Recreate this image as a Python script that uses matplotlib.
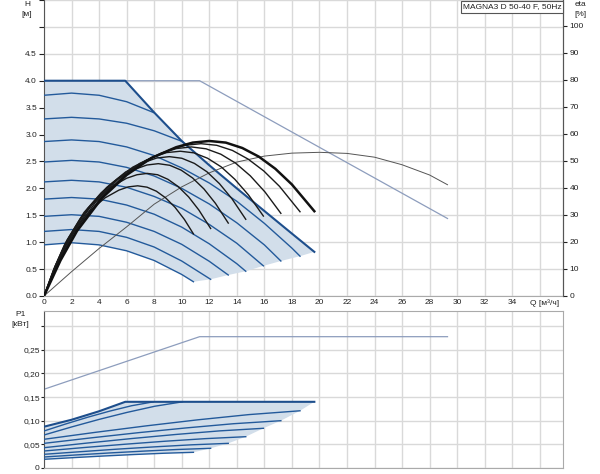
import numpy as np
import matplotlib.pyplot as plt

plt.rcParams['font.family'] = ['Liberation Sans', 'DejaVu Sans']
plt.rcParams['font.size'] = 6

# ---------------- upper chart: H(Q) curves, Q [m3/h], H [m]
edge_q = [0, 5.9, 8, 10, 12, 14, 16, 18, 19.63]
edge_h = [4.0, 4.0, 3.41, 2.88, 2.43, 2.0, 1.58, 1.16, 0.82]

head_q = [
    [0, 2, 4, 6, 7.95],
    [0, 2, 4, 6, 8, 10.05],
    [0, 2, 4, 6, 8, 10, 12, 14, 16, 18, 18.59],
    [0, 2, 4, 6, 8, 10, 12, 14, 16, 17.2],
    [0, 2, 4, 6, 8, 10, 12, 14, 15.93],
    [0, 2, 4, 6, 8, 10, 12, 14, 14.65],
    [0, 2, 4, 6, 8, 10, 12, 13.38],
    [0, 2, 4, 6, 8, 10, 12.1],
    [0, 2, 4, 6, 8, 10, 10.85],
]
head_h = [
    [3.73, 3.77, 3.73, 3.61, 3.41],
    [3.29, 3.32, 3.29, 3.21, 3.07, 2.87],
    [2.87, 2.90, 2.87, 2.77, 2.61, 2.38, 2.10, 1.76, 1.35, 0.89, 0.74],
    [2.49, 2.52, 2.49, 2.39, 2.23, 2.00, 1.71, 1.36, 0.95, 0.65],
    [2.12, 2.15, 2.12, 2.02, 1.85, 1.63, 1.33, 0.98, 0.56],
    [1.80, 1.83, 1.80, 1.69, 1.52, 1.28, 0.97, 0.60, 0.46],
    [1.48, 1.51, 1.48, 1.37, 1.20, 0.96, 0.645, 0.39],
    [1.20, 1.235, 1.20, 1.09, 0.91, 0.65, 0.31],
    [0.95, 0.99, 0.95, 0.84, 0.66, 0.40, 0.265],
]

# second (twin) head line
twin_q = [0, 11.3, 29.3]
twin_h = [4.0, 4.0, 1.44]

# efficiency curves, eta [%]
eta_q = [
    [0, 0.68, 1.36, 2.38, 3.4, 4.42, 5.44, 6.12, 6.8, 7.48, 8.16, 8.84, 9.52, 10.2, 10.85],
    [0, 0.75, 1.5, 2.63, 3.75, 4.88, 6.0, 6.75, 7.5, 8.25, 9.0, 9.75, 10.5, 11.25, 12.1],
    [0, 0.83, 1.66, 2.9, 4.15, 5.4, 6.64, 7.47, 8.3, 9.13, 9.96, 10.79, 11.62, 12.45, 13.38],
    [0, 0.91, 1.82, 3.19, 4.55, 5.92, 7.28, 8.19, 9.1, 10.01, 10.92, 11.83, 12.74, 13.65, 14.65],
    [0, 0.99, 1.98, 3.47, 4.95, 6.44, 7.92, 8.91, 9.9, 10.89, 11.88, 12.87, 13.86, 14.85, 15.93],
    [0, 1.07, 2.14, 3.75, 5.35, 6.96, 8.56, 9.63, 10.7, 11.77, 12.84, 13.91, 14.98, 16.05, 17.2],
    [0, 1.14, 2.28, 3.99, 5.7, 7.41, 9.12, 10.26, 11.4, 12.54, 13.68, 14.82, 15.96, 17.1, 18.59],
]
eta_v = [
    [0, 9.4, 17.1, 25.7, 31.8, 36.3, 39.2, 40.4, 40.8, 40.3, 38.8, 36.3, 32.8, 28.3, 23.0],
    [0, 10.4, 19.1, 28.6, 35.4, 40.4, 43.6, 44.9, 45.4, 44.9, 43.2, 40.5, 36.7, 31.8, 25.0],
    [0, 11.3, 20.6, 30.9, 38.2, 43.6, 47.0, 48.5, 49.0, 48.4, 46.6, 43.7, 39.6, 34.3, 27.0],
    [0, 11.9, 21.7, 32.5, 40.2, 45.9, 49.5, 51.1, 51.6, 51.0, 49.1, 46.0, 41.6, 36.0, 28.4],
    [0, 12.3, 22.5, 33.8, 41.8, 47.7, 51.5, 53.1, 53.6, 53.0, 51.0, 47.8, 43.2, 37.4, 29.6],
    [0, 12.7, 23.2, 34.8, 43.1, 49.1, 53.0, 54.6, 55.2, 54.5, 52.5, 49.2, 44.5, 38.5, 30.6],
    [0, 13.0, 23.7, 35.5, 44.0, 50.2, 54.1, 55.8, 56.4, 55.8, 53.9, 50.7, 46.3, 40.6, 31.2],
]
eta_max_q = [0, 1.2, 2.4, 4.2, 6.0, 7.8, 9.6, 10.8, 12.0, 13.2, 14.4, 15.6, 16.8, 18.0, 19.63]
eta_max_v = [0, 13.2, 24.1, 36.2, 44.8, 51.1, 55.1, 56.8, 57.4, 56.8, 54.8, 51.6, 47.1, 41.3, 31.4]

eta_twin_q = [0, 2, 4, 6, 8, 10, 12, 14, 16, 18, 20, 22, 24, 26, 28, 29.3]
eta_twin_v = [0, 9, 17.6, 25.6, 34, 40.4, 45.6, 49.6, 51.8, 52.9, 53.2, 52.8, 51.4, 48.6, 44.8, 41.2]

# ---------------- lower chart: P1(Q) [kW]
pedge_q = [0, 2, 4, 5.9, 19.63]
pedge_p = [0.0873, 0.102, 0.12, 0.14, 0.14]

pow_q = [
    [0, 1.59, 3.18, 4.77, 6.36, 7.95],
    [0, 2.01, 4.02, 6.03, 8.04, 10.05],
    [0, 3.72, 7.44, 11.15, 14.87, 18.59],
    [0, 3.44, 6.88, 10.32, 13.76, 17.2],
    [0, 3.19, 6.37, 9.56, 12.74, 15.93],
    [0, 2.93, 5.86, 8.79, 11.72, 14.65],
    [0, 2.68, 5.35, 8.03, 10.7, 13.38],
    [0, 2.42, 4.84, 7.26, 9.68, 12.1],
    [0, 2.17, 4.34, 6.51, 8.68, 10.85],
]
pow_p = [
    [0.0782, 0.0932, 0.1074, 0.1203, 0.1317, 0.14],
    [0.0697, 0.0868, 0.1029, 0.1176, 0.1306, 0.14],
    [0.0606, 0.0753, 0.0891, 0.1018, 0.1129, 0.121],
    [0.052, 0.0637, 0.0747, 0.0847, 0.0936, 0.100],
    [0.0428, 0.0528, 0.0622, 0.0708, 0.0784, 0.0839],
    [0.0358, 0.0432, 0.0501, 0.0565, 0.0620, 0.0661],
    [0.0288, 0.0344, 0.0398, 0.0446, 0.0489, 0.052],
    [0.0231, 0.0276, 0.0318, 0.0356, 0.0390, 0.0415],
    [0.0182, 0.0218, 0.0252, 0.0283, 0.0310, 0.033],
]
ptwin_q = [0, 11.3, 29.3]
ptwin_p = [0.1666, 0.278, 0.278]

q_ticks = list(range(0, 37, 2))
q_labels = [str(v) for v in range(0, 35, 2)] + ['']
h_ticks = [0, 0.5, 1.0, 1.5, 2.0, 2.5, 3.0, 3.5, 4.0, 4.5, 5.0, 5.5]
h_labels = ['0.0', '0.5', '1.0', '1.5', '2.0', '2.5', '3.0', '3.5', '4.0', '4.5', '', '']
eta_ticks = list(range(0, 101, 10))
p_ticks = [0, 0.05, 0.10, 0.15, 0.20, 0.25, 0.30]
p_labels = ['0', '0,05', '0,10', '0,15', '0,20', '0,25', '']

BLUE = '#235a9b'
DARK = '#1d4e8c'
FILL = '#d2deea'
LIGHT = '#8d9dbd'
GRID = '#d9d9d9'

W, H = 600, 474
fig = plt.figure(figsize=(6, 4.74), dpi=100)
ax = fig.add_axes([44 / W, 1 - 296 / H, 518.5 / W, 296 / H])
axp = fig.add_axes([44 / W, 1 - 467.9 / H, 518.5 / W, 156.9 / H])

XMAX = 37.65
for a in (ax, axp):
    a.set_xlim(0, XMAX)
    a.set_axisbelow(True)
    a.grid(True, color=GRID, lw=1.0)
    a.set_xticks(q_ticks)

# ---- upper chart
ax.set_ylim(0, 5.48)
ax.set_yticks(h_ticks, h_labels)
ax.set_xticklabels(q_labels)
ax.tick_params(axis='x', length=0, pad=2.5, colors='#222')
ax.tick_params(axis='y', length=3.5, pad=1.5, width=0.8, colors='#222')
ax.spines['top'].set_visible(False)
ax.spines['right'].set_color('#555')
ax.spines['left'].set_color('#555')
ax.spines['bottom'].set_color('#aaa')

# fill region
end_q = [h[-1] for h in head_q[2:]]
end_h = [h[-1] for h in head_h[2:]]
poly_q = edge_q + end_q + head_q[-1][::-1]
poly_h = edge_h + end_h + head_h[-1][::-1]
ax.fill(poly_q, poly_h, color=FILL, lw=0, zorder=1)

ax.plot(twin_q, twin_h, color=LIGHT, lw=0.9, zorder=2)
for q, h in zip(head_q, head_h):
    ax.plot(q, h, color=BLUE, lw=1.0, zorder=3)
ax.plot(edge_q, edge_h, color=DARK, lw=1.5, zorder=4)

ax2 = ax.twinx()
ax2.set_ylim(0, 5.48 * 20)
ax2.set_yticks(eta_ticks)
ax2.tick_params(axis='y', length=3, pad=2, width=0.8, colors='#222')
for s in ('top', 'left', 'bottom'):
    ax2.spines[s].set_visible(False)
ax2.spines['right'].set_color('#555')

ax2.plot(eta_twin_q, eta_twin_v, color='#555', lw=0.7)
for q, e in zip(eta_q, eta_v):
    ax2.plot(q, e, color='#1a1a1a', lw=1.0)
ax2.plot(eta_max_q, eta_max_v, color='#111', lw=1.8)

# ---- lower chart
axp.set_ylim(0, 0.3324)
axp.set_yticks(p_ticks, p_labels)
axp.tick_params(axis='x', length=0, labelbottom=False)
axp.tick_params(axis='y', length=2, pad=1, width=0.8, colors='#222')
for s in ('top', 'right', 'bottom'):
    axp.spines[s].set_color('#aaa')
axp.spines['left'].set_color('#555')

pend_q = [q[-1] for q in pow_q[2:]]
pend_p = [p[-1] for p in pow_p[2:]]
ppoly_q = pedge_q + pend_q + pow_q[-1][::-1]
ppoly_p = pedge_p + pend_p + pow_p[-1][::-1]
axp.fill(ppoly_q, ppoly_p, color=FILL, lw=0, zorder=1)

axp.plot(ptwin_q, ptwin_p, color=LIGHT, lw=0.9, zorder=2)
for q, p in zip(pow_q, pow_p):
    axp.plot(q, p, color=BLUE, lw=1.0, zorder=3)
axp.plot(pedge_q, pedge_p, color=DARK, lw=1.5, zorder=4)

# ---- texts
def ftext(x, y, s, **kw):
    fig.text(x / W, 1 - y / H, s, ha='center', va='center', color='#222', **kw)

ftext(27, 5, 'H')
ftext(27, 15, '[м]')
ftext(580, 5, 'eta')
ftext(580, 15, '[%]')
ftext(21, 314, 'P1')
ftext(20, 325, '[кВт]')
ftext(545, 303, 'Q [м³/ч]')
fig.text(512 / W, 1 - 7 / H, 'MAGNA3 D 50-40 F, 50Hz', ha='center', va='center',
         color='#222', bbox=dict(boxstyle='square,pad=0.25', fc='white', ec='#555', lw=0.8))

fig.savefig('out.png', dpi=100)
